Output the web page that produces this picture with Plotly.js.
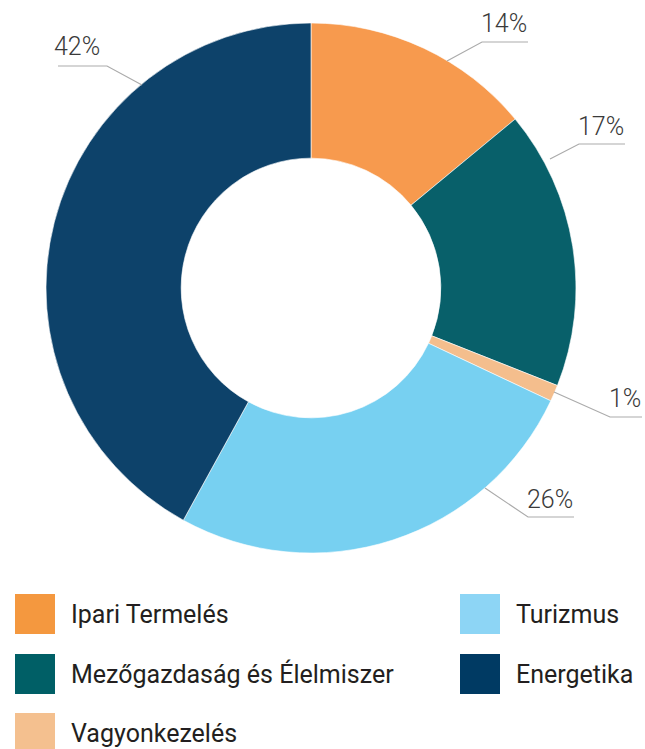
<!DOCTYPE html>
<html>
<head>
<meta charset="utf-8">
<script src="https://cdn.plot.ly/plotly-3.0.1.min.js"></script>
<style>
  html, body { margin: 0; padding: 0; background: #ffffff; }
  #chart { width: 645px; height: 749px; }
</style>
</head>
<body>
<div id="chart"></div>
<script>
// ---- Data ----
const categories = ['Ipari Termelés', 'Mezőgazdaság és Élelmiszer', 'Vagyonkezelés', 'Turizmus', 'Energetika'];
const shares = [14, 17, 1, 26, 42];
const sliceColors = ['#F79A4E', '#08606A', '#F4BE8D', '#77D0F1', '#0D426A'];
const legendColors = ['#F4983F', '#005F66', '#F4C08F', '#8DD5F5', '#003A63'];

// ---- Styling / placement (pixel positions of labels, legend grid) ----
const W = 645, H = 749;
const px = x => x / W;
const py = y => 1 - y / H;

// label placement per category (text anchor point + leader line polyline), in pixels
const labelPlacement = [
  { tx: 529, ty: 23,  line: [[447, 61], [482, 42], [528, 42]] },
  { tx: 626, ty: 126, line: [[550, 159], [579, 144], [625, 144]] },
  { tx: 643, ty: 398, line: [[554, 392], [610, 417], [642, 417]] },
  { tx: 575, ty: 499, line: [[485, 488], [528, 517], [574, 517]] },
  { tx: 102, ty: 47,  line: [[142, 85], [107, 66], [58, 66]] }
];
// legend grid: [left x of square, center y]
const legendPlacement = [
  [15, 614], [15, 674], [15, 733], [460, 614], [460, 674]
];

const FONT = 'Roboto, "DejaVu Sans", sans-serif';

const trace = {
  type: 'pie',
  labels: categories,
  values: shares,
  sort: false,
  direction: 'clockwise',
  rotation: 0,
  hole: 0.49,
  textinfo: 'none',
  hoverinfo: 'label+percent',
  showlegend: false,
  marker: { colors: sliceColors, line: { color: '#ffffff', width: 0.6 } },
  domain: { x: [46 / W, 576 / W], y: [py(553), py(23)] }
};

const annotations = [];
const shapes = [];

categories.forEach((c, i) => {
  const p = labelPlacement[i];
  annotations.push({
    xref: 'paper', yref: 'paper',
    x: px(p.tx), y: py(p.ty),
    xanchor: 'right', yanchor: 'middle',
    text: shares[i] + '%',
    showarrow: false,
    font: { family: FONT, size: 25, color: '#3a3a3a', weight: 300 }
  });
  const path = p.line.map((pt, k) => (k === 0 ? 'M ' : 'L ') + px(pt[0]) + ' ' + py(pt[1])).join(' ');
  shapes.push({
    type: 'path', xref: 'paper', yref: 'paper', path: path,
    line: { color: '#ababab', width: 1.2 }
  });

  const lg = legendPlacement[i];
  shapes.push({
    type: 'rect', xref: 'paper', yref: 'paper',
    x0: px(lg[0]), x1: px(lg[0] + 40),
    y0: py(lg[1] + 20), y1: py(lg[1] - 20),
    fillcolor: legendColors[i], line: { width: 0 }
  });
  annotations.push({
    xref: 'paper', yref: 'paper',
    x: px(lg[0] + 54), y: py(lg[1]),
    xanchor: 'left', yanchor: 'middle',
    text: c,
    showarrow: false,
    font: { family: FONT, size: 25, color: '#231F20' }
  });
});

const layout = {
  width: W, height: H,
  margin: { l: 0, r: 0, t: 0, b: 0 },
  paper_bgcolor: '#ffffff',
  plot_bgcolor: '#ffffff',
  showlegend: false,
  annotations: annotations,
  shapes: shapes
};

Plotly.newPlot('chart', [trace], layout, { displayModeBar: false, staticPlot: true });
</script>
</body>
</html>
